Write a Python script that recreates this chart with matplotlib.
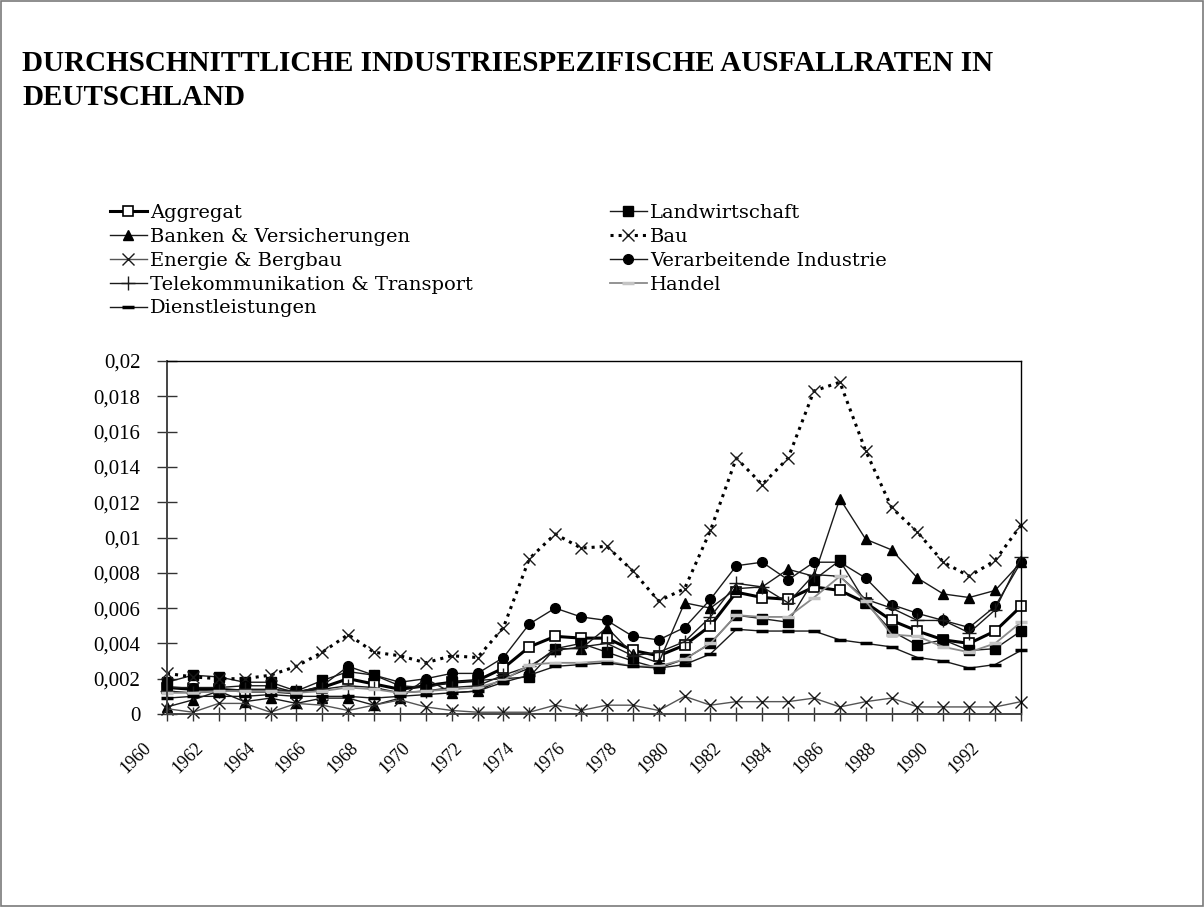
import matplotlib
matplotlib.use("Agg")
import matplotlib.pyplot as plt
from matplotlib.patches import Rectangle
from matplotlib.transforms import ScaledTranslation

plt.rcParams['font.family'] = ['Liberation Serif', 'DejaVu Serif']

# ---------------- data ----------------
years = list(range(1960, 1994))

aggregat = [0.0015, 0.0014, 0.0014, 0.0013, 0.0013, 0.0012, 0.0015, 0.0020, 0.0017, 0.0014,
            0.0016, 0.0018, 0.0019, 0.0026, 0.0038, 0.0044, 0.0043, 0.0043, 0.0036, 0.0033,
            0.0039, 0.0050, 0.0069, 0.0066, 0.0065, 0.0072, 0.0070, 0.0063, 0.0053, 0.0047,
            0.0042, 0.0040, 0.0047, 0.0061]
landwirtschaft = [0.0018, 0.0022, 0.0021, 0.0018, 0.0018, 0.0013, 0.0019, 0.0024, 0.0022, 0.0016,
                  0.0015, 0.0018, 0.0019, 0.0020, 0.0021, 0.0037, 0.0040, 0.0035, 0.0030, 0.0026,
                  0.0031, 0.0040, 0.0056, 0.0054, 0.0052, 0.0076, 0.0087, 0.0063, 0.0047, 0.0039,
                  0.0042, 0.0036, 0.0037, 0.0047]
banken = [0.0004, 0.0008, 0.0013, 0.0007, 0.0009, 0.0006, 0.0009, 0.0009, 0.0005, 0.0009,
          0.0020, 0.0012, 0.0013, 0.0020, 0.0026, 0.0037, 0.0037, 0.0049, 0.0034, 0.0029,
          0.0063, 0.0060, 0.0071, 0.0072, 0.0082, 0.0078, 0.0122, 0.0099, 0.0093, 0.0077,
          0.0068, 0.0066, 0.0070, 0.0086]
bau = [0.0023, 0.0021, 0.0020, 0.0020, 0.0022, 0.0027, 0.0035, 0.0045, 0.0035, 0.0033,
       0.0029, 0.0033, 0.0032, 0.0049, 0.0088, 0.0102, 0.0094, 0.0095, 0.0081, 0.0064,
       0.0071, 0.0104, 0.0145, 0.0130, 0.0145, 0.0183, 0.0188, 0.0149, 0.0117, 0.0103,
       0.0086, 0.0078, 0.0087, 0.0107]
energie = [0.0003, 0.0001, 0.0006, 0.0006, 0.0001, 0.0006, 0.0005, 0.0002, 0.0005, 0.0008,
           0.0004, 0.0002, 0.0001, 0.0001, 0.0001, 0.0005, 0.0002, 0.0005, 0.0005, 0.0002,
           0.0010, 0.0005, 0.0007, 0.0007, 0.0007, 0.0009, 0.0004, 0.0007, 0.0009, 0.0004,
           0.0004, 0.0004, 0.0004, 0.0007]
verarbeitende = [0.0015, 0.0015, 0.0015, 0.0016, 0.0016, 0.0012, 0.0016, 0.0027, 0.0022, 0.0018,
                 0.0020, 0.0023, 0.0023, 0.0032, 0.0051, 0.0060, 0.0055, 0.0053, 0.0044, 0.0042,
                 0.0049, 0.0065, 0.0084, 0.0086, 0.0076, 0.0086, 0.0086, 0.0077, 0.0062, 0.0057,
                 0.0053, 0.0049, 0.0061, 0.0086]
telekom = [0.0013, 0.0012, 0.0013, 0.0014, 0.0014, 0.0013, 0.0014, 0.0016, 0.0015, 0.0012,
           0.0013, 0.0015, 0.0016, 0.0022, 0.0027, 0.0036, 0.0038, 0.0040, 0.0033, 0.0035,
           0.0041, 0.0055, 0.0074, 0.0072, 0.0063, 0.0079, 0.0078, 0.0065, 0.0060, 0.0053,
           0.0053, 0.0046, 0.0059, 0.0089]
handel = [0.0012, 0.0012, 0.0013, 0.0013, 0.0013, 0.0012, 0.0013, 0.0015, 0.0014, 0.0012,
          0.0013, 0.0014, 0.0015, 0.0019, 0.0028, 0.0029, 0.0029, 0.0030, 0.0027, 0.0027,
          0.0031, 0.0040, 0.0056, 0.0055, 0.0055, 0.0066, 0.0078, 0.0064, 0.0045, 0.0044,
          0.0038, 0.0035, 0.0040, 0.0052]
dienst = [0.0009, 0.0010, 0.0010, 0.0010, 0.0011, 0.0010, 0.0010, 0.0010, 0.0009, 0.0010,
          0.0011, 0.0012, 0.0013, 0.0018, 0.0022, 0.0027, 0.0028, 0.0029, 0.0027, 0.0026,
          0.0028, 0.0034, 0.0048, 0.0047, 0.0047, 0.0047, 0.0042, 0.0040, 0.0038, 0.0032,
          0.0030, 0.0026, 0.0028, 0.0036]

series_names = ["Aggregat", "Landwirtschaft", "Banken & Versicherungen", "Bau",
                "Energie & Bergbau", "Verarbeitende Industrie",
                "Telekommunikation & Transport", "Handel", "Dienstleistungen"]

y_ticks = [0, 0.002, 0.004, 0.006, 0.008, 0.01, 0.012, 0.014, 0.016, 0.018, 0.02]
y_tick_labels = ["0", "0,002", "0,004", "0,006", "0,008", "0,01", "0,012", "0,014",
                 "0,016", "0,018", "0,02"]
x_tick_labels = [str(y) if (y % 2 == 0 and y <= 1992) else "" for y in years]

title = "DURCHSCHNITTLICHE INDUSTRIESPEZIFISCHE AUSFALLRATEN IN\nDEUTSCHLAND"

# ---------------- figure ----------------
W, H = 1204, 907
fig = plt.figure(figsize=(W / 100, H / 100), dpi=100)
fig.patch.set_facecolor("white")

ax = fig.add_axes([167 / W, 1 - 714 / H, (1021 - 167) / W, (714 - 361) / H])

dark = "#1a1a1a"
styles = [
    dict(color="black", lw=2.2, marker="s", ms=7, mfc="white", mec="black", mew=1.2),
    dict(color=dark, lw=1.0, marker="s", ms=6.5, mfc="black", mec="black"),
    dict(color=dark, lw=1.0, marker="^", ms=7.5, mfc="black", mec="black"),
    dict(color="black", lw=2.2, ls=":", marker="x", ms=8, mec=dark, mew=1.0),
    dict(color="#555555", lw=1.0, marker="x", ms=8, mec=dark, mew=1.0),
    dict(color=dark, lw=1.0, marker="o", ms=7, mfc="black", mec="black"),
    dict(color=dark, lw=1.0, marker="+", ms=10, mec=dark, mew=1.0),
    dict(color="#8a8a8a", lw=1.3, marker="_", ms=8, mec="#c4c4c4", mew=2.5),
    dict(color=dark, lw=1.0, marker="_", ms=8, mec="black", mew=2.5),
]
data = [aggregat, landwirtschaft, banken, bau, energie, verarbeitende, telekom, handel, dienst]

handles = []
for name, vals, st in zip(series_names, data, styles):
    ln, = ax.plot(years, vals, label=name, clip_on=False, **st)
    handles.append(ln)

ax.set_xlim(years[0], years[-1])
ax.set_ylim(0, 0.02)

ax.set_yticks(y_ticks, y_tick_labels)
ax.set_xticks(years, x_tick_labels)

for s in ["top", "right"]:
    ax.spines[s].set_color("black")
    ax.spines[s].set_linewidth(1.0)
for s in ["left", "bottom"]:
    ax.spines[s].set_color("#444444")
    ax.spines[s].set_linewidth(1.4)

ax.tick_params(axis="y", direction="inout", length=14, width=1.0, color="#333333",
               labelsize=15, pad=12)
ax.tick_params(axis="x", direction="inout", length=10, width=1.0, color="#333333",
               labelsize=13, pad=2)
for lab in ax.get_xticklabels():
    lab.set_rotation(45)
    lab.set_ha("right")
    lab.set_va("top")
    lab.set_transform(lab.get_transform() + ScaledTranslation(-0.12, -0.16, fig.dpi_scale_trans))

# ---------------- legend (two columns, row-major order) ----------------
col1 = [handles[i] for i in (0, 2, 4, 6, 8)]
col2 = [handles[i] for i in (1, 3, 5, 7)]
leg_kw = dict(frameon=False, handlelength=1.9, handletextpad=0.15,
              labelspacing=0.3, borderaxespad=0, borderpad=0,
              prop=dict(family="DejaVu Serif", size=14))
leg1 = fig.legend(handles=col1, labels=[h.get_label() for h in col1],
                  loc="upper left", bbox_to_anchor=(110 / W, 1 - 204 / H), **leg_kw)
leg2 = fig.legend(handles=col2, labels=[h.get_label() for h in col2],
                  loc="upper left", bbox_to_anchor=(610 / W, 1 - 204 / H), **leg_kw)

# ---------------- title ----------------
fig.text(22 / W, 1 - 50 / H, title, ha="left", va="top", fontsize=21,
         fontweight="bold", linespacing=1.35)

# outer border
fig.add_artist(Rectangle((0.0008, 0.001), 0.9984, 0.998, transform=fig.transFigure,
                         fill=False, edgecolor="#7a7a7a", lw=1.2))

fig.savefig("out.png", dpi=100, facecolor="white")
